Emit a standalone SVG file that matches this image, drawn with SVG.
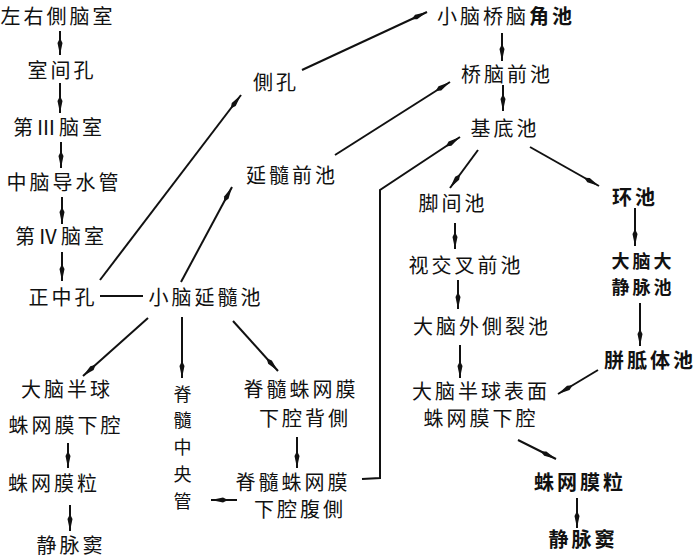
<svg xmlns="http://www.w3.org/2000/svg" width="699" height="559" viewBox="0 0 699 559">
<defs>
<marker id="ah" markerUnits="userSpaceOnUse" markerWidth="18" markerHeight="8" refX="17" refY="4" orient="auto">
<path d="M0,4 L5,1.5 L17,4 L5,6.5 z" fill="#111"/>
</marker>
<style>
.t{font-family:"Noto Sans CJK SC","Noto Sans CJK TC",sans-serif;font-size:20px;letter-spacing:3px;text-anchor:middle;fill:#111}
.s{font-size:18px}
.b{font-weight:bold}
.c line,.c polyline{stroke:#111;stroke-width:2;fill:none}
.a{marker-end:url(#ah)}
</style>
</defs>
<rect width="699" height="559" fill="#fff"/>
<g id="n1"><text class="t" x="58" y="24">左右側脑室</text></g>
<g id="n2"><text class="t" x="62" y="78">室间孔</text></g>
<g id="n3"><text class="t" x="59" y="135">第Ⅲ脑室</text></g>
<g id="n4"><text class="t" x="64" y="190">中脑导水管</text></g>
<g id="n5"><text class="t" x="61" y="244">第Ⅳ脑室</text></g>
<g id="n6"><text class="t" x="63" y="305">正中孔</text></g>
<g id="n7"><text class="t" x="206" y="305">小脑延髓池</text></g>
<g id="n8"><text class="t" x="276" y="90">側孔</text></g>
<g id="n9"><text class="t" x="292" y="183">延髓前池</text></g>
<g id="n10"><text class="t" x="506" y="24">小脑桥脑<tspan class="b">角池</tspan></text></g>
<g id="n11"><text class="t" x="507" y="82">桥脑前池</text></g>
<g id="n12"><text class="t" x="505" y="136">基底池</text></g>
<g id="n13"><text class="t" x="453" y="211">脚间池</text></g>
<g id="n14"><text class="t b" x="635" y="205">环池</text></g>
<g id="n15"><text class="t" x="466" y="273">视交叉前池</text></g>
<g id="n16"><text class="t s b" x="643" y="268">大脑大</text><text class="t s b" x="643" y="294">静脉池</text></g>
<g id="n17"><text class="t" x="482" y="334">大脑外側裂池</text></g>
<g id="n18"><text class="t b" x="650" y="368">胼胝体池</text></g>
<g id="n19"><text class="t" x="481" y="399">大脑半球表面</text><text class="t" x="481" y="426">蛛网膜下腔</text></g>
<g id="n20"><text class="t b" x="580" y="490">蛛网膜粒</text></g>
<g id="n21"><text class="t b" x="583" y="547">静脉窦</text></g>
<g id="n22"><text class="t" x="67" y="397">大脑半球</text><text class="t" x="66" y="433">蛛网膜下腔</text></g>
<g id="n23"><text class="t" x="54" y="491">蛛网膜粒</text></g>
<g id="n24"><text class="t" x="71" y="553">静脉窦</text></g>
<g id="n25"><text class="t s" x="184" y="401">脊</text><text class="t s" x="184" y="427">髓</text><text class="t s" x="184" y="454">中</text><text class="t s" x="184" y="481">央</text><text class="t s" x="184" y="508">管</text></g>
<g id="n26"><text class="t" x="301" y="397">脊髓蛛网膜</text><text class="t" x="305" y="426">下腔背側</text></g>
<g id="n27"><text class="t" x="293" y="490">脊髓蛛网膜</text><text class="t" x="300" y="517">下腔腹側</text></g>
<g id="connectors" class="c">
<line class="a" x1="60" y1="31" x2="60" y2="55"/>
<line class="a" x1="60" y1="83" x2="60" y2="113"/>
<line class="a" x1="61" y1="142" x2="61" y2="168"/>
<line class="a" x1="62" y1="197" x2="62" y2="224"/>
<line class="a" x1="62" y1="252" x2="62" y2="281"/>
<line x1="100" y1="296" x2="143" y2="296"/>
<line class="a" x1="100" y1="280" x2="241" y2="95"/>
<line class="a" x1="181" y1="282" x2="232" y2="187"/>
<line class="a" x1="302" y1="70" x2="427" y2="12"/>
<line class="a" x1="335" y1="155" x2="450" y2="82"/>
<polyline class="a" points="362,479 380,478 380,190 460,137"/>
<line class="a" x1="502" y1="33" x2="502" y2="61"/>
<line class="a" x1="503" y1="85" x2="503" y2="111"/>
<line class="a" x1="478" y1="150" x2="450" y2="188"/>
<line class="a" x1="530" y1="147" x2="599" y2="186"/>
<line class="a" x1="455" y1="223" x2="455" y2="249"/>
<line class="a" x1="635" y1="208" x2="635" y2="246"/>
<line class="a" x1="458" y1="280" x2="458" y2="309"/>
<line class="a" x1="460" y1="345" x2="460" y2="378"/>
<line class="a" x1="640" y1="303" x2="640" y2="346"/>
<line class="a" x1="598" y1="370" x2="558" y2="394"/>
<line class="a" x1="518" y1="440" x2="556" y2="459"/>
<line class="a" x1="577" y1="498" x2="577" y2="528"/>
<line class="a" x1="148" y1="318" x2="83" y2="376"/>
<line class="a" x1="182" y1="317" x2="182" y2="378"/>
<line class="a" x1="233" y1="321" x2="278" y2="371"/>
<line class="a" x1="297" y1="437" x2="297" y2="468"/>
<line class="a" x1="237" y1="500" x2="211" y2="500"/>
<line class="a" x1="68" y1="443" x2="68" y2="468"/>
<line class="a" x1="70" y1="505" x2="70" y2="531"/>
</g>
</svg>
